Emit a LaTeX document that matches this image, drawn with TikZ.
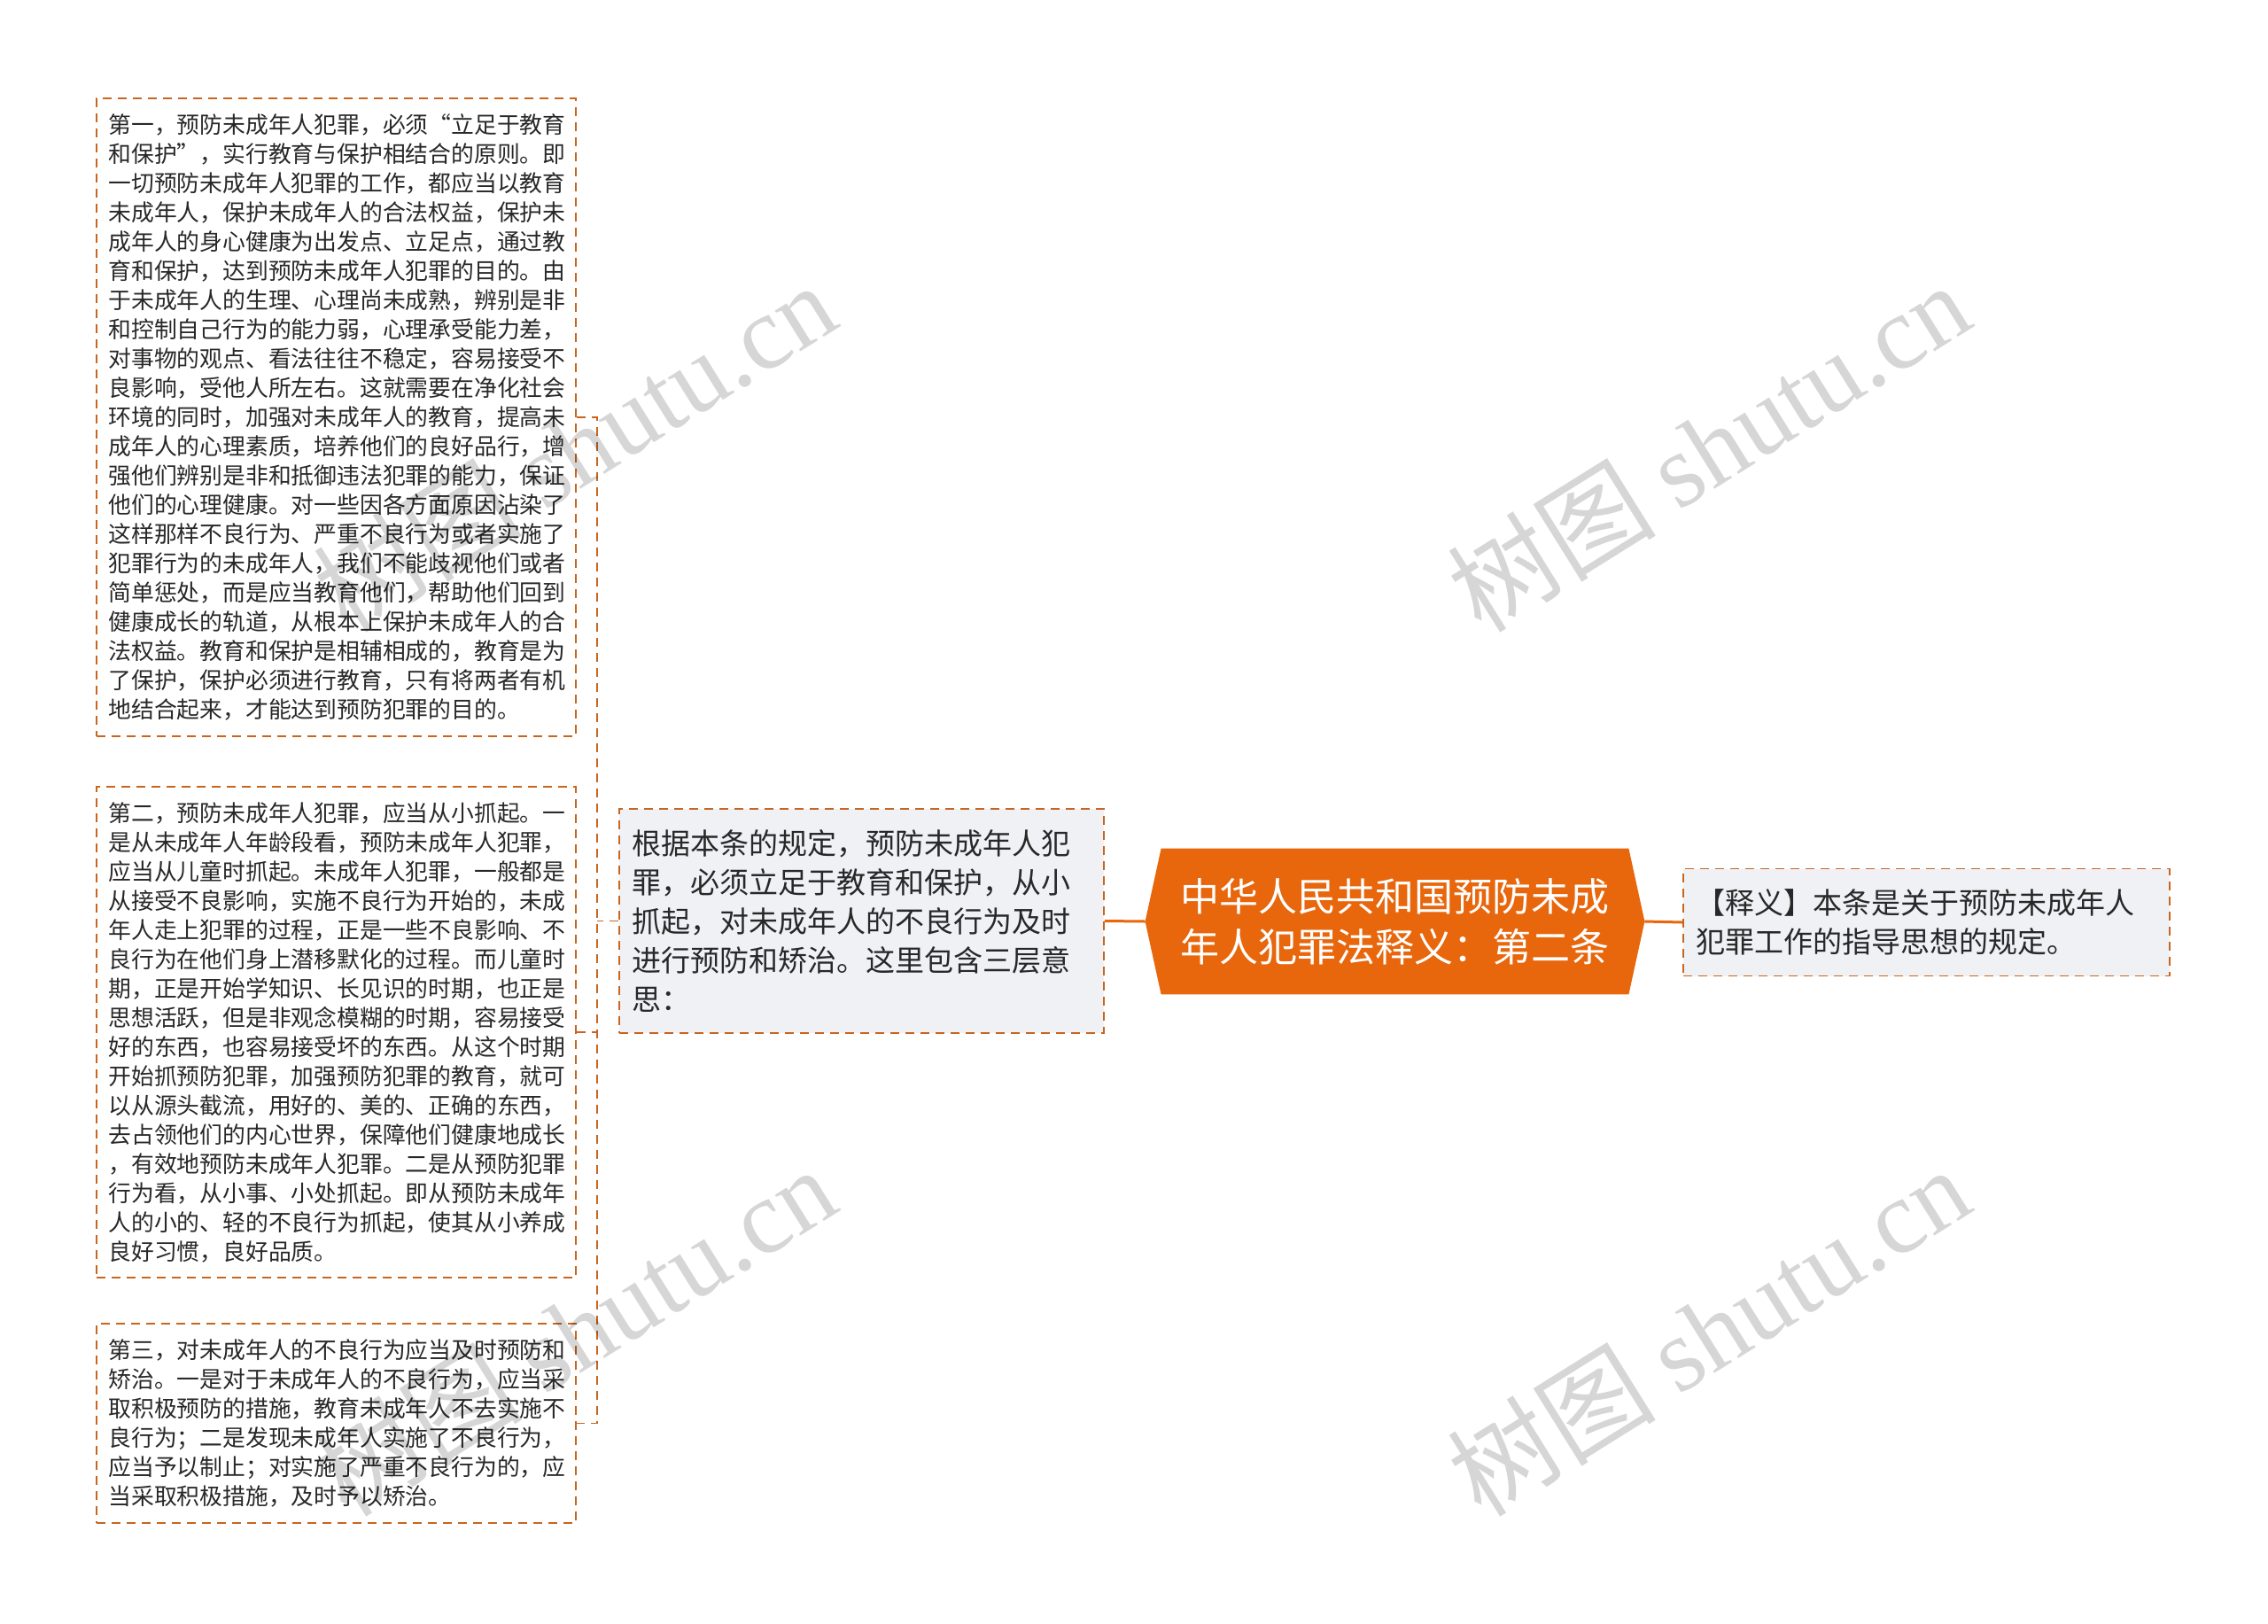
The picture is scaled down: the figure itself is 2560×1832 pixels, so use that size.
\documentclass[tikz,border=0pt]{standalone}
\usepackage{fontspec}
\setmainfont{Noto Sans CJK SC}
\newfontfamily\wmlatin{Liberation Serif}
\usetikzlibrary{backgrounds,calc}
\definecolor{bordc}{RGB}{200,101,31}
\definecolor{rootc}{RGB}{232,102,12}
\definecolor{boxfill}{RGB}{239,241,245}
\definecolor{txtc}{RGB}{40,40,40}
\tikzset{
  dashln/.style={draw=bordc, line width=0.9pt, dash pattern=on 5pt off 3.5pt},
  smallbox/.style={dashln, fill=white, text=txtc, align=left, text width=257pt, inner xsep=6.75pt, inner ysep=0pt, font=\fontsize{12.9pt}{16.5pt}\selectfont},
  bigbox/.style={dashln, fill=boxfill, text=txtc, align=left, inner xsep=7pt, inner ysep=0pt, font=\fontsize{16.5pt}{22pt}\selectfont},
  rootbox/.style={text=white, align=center, minimum width=263.5pt, minimum height=82pt, inner sep=0pt, font=\fontsize{22pt}{28.5pt}\selectfont},
  solidln/.style={draw=rootc, line width=1.5pt},
  wmark/.style={text=black, opacity=0.16, rotate=32, font=\fontsize{59pt}{59pt}\selectfont},
}
\begin{document}
\begin{tikzpicture}[x=0.5pt,y=-0.5pt]
\begin{scope}[on background layer]
\fill[white] (0,0) rectangle (2560,1832);
\end{scope}
\useasboundingbox (0,0) rectangle (2560,1832);

\node[smallbox, minimum height=360pt] (b1) at (379.5,471) {第一，预防未成年人犯罪，必须“立足于教育\\和保护”，实行教育与保护相结合的原则。即\\一切预防未成年人犯罪的工作，都应当以教育\\未成年人，保护未成年人的合法权益，保护未\\成年人的身心健康为出发点、立足点，通过教\\育和保护，达到预防未成年人犯罪的目的。由\\于未成年人的生理、心理尚未成熟，辨别是非\\和控制自己行为的能力弱，心理承受能力差，\\对事物的观点、看法往往不稳定，容易接受不\\良影响，受他人所左右。这就需要在净化社会\\环境的同时，加强对未成年人的教育，提高未\\成年人的心理素质，培养他们的良好品行，增\\强他们辨别是非和抵御违法犯罪的能力，保证\\他们的心理健康。对一些因各方面原因沾染了\\这样那样不良行为、严重不良行为或者实施了\\犯罪行为的未成年人，我们不能歧视他们或者\\简单惩处，而是应当教育他们，帮助他们回到\\健康成长的轨道，从根本上保护未成年人的合\\法权益。教育和保护是相辅相成的，教育是为\\了保护，保护必须进行教育，只有将两者有机\\地结合起来，才能达到预防犯罪的目的。};

\node[smallbox, minimum height=277pt] (b2) at (379.5,1165) {第二，预防未成年人犯罪，应当从小抓起。一\\是从未成年人年龄段看，预防未成年人犯罪，\\应当从儿童时抓起。未成年人犯罪，一般都是\\从接受不良影响，实施不良行为开始的，未成\\年人走上犯罪的过程，正是一些不良影响、不\\良行为在他们身上潜移默化的过程。而儿童时\\期，正是开始学知识、长见识的时期，也正是\\思想活跃，但是非观念模糊的时期，容易接受\\好的东西，也容易接受坏的东西。从这个时期\\开始抓预防犯罪，加强预防犯罪的教育，就可\\以从源头截流，用好的、美的、正确的东西，\\去占领他们的内心世界，保障他们健康地成长\\，有效地预防未成年人犯罪。二是从预防犯罪\\行为看，从小事、小处抓起。即从预防未成年\\人的小的、轻的不良行为抓起，使其从小养成\\良好习惯，良好品质。};

\node[smallbox, minimum height=112.5pt] (b3) at (379.5,1606.5) {第三，对未成年人的不良行为应当及时预防和\\矫治。一是对于未成年人的不良行为，应当采\\取积极预防的措施，教育未成年人不去实施不\\良行为；二是发现未成年人实施了不良行为，\\应当予以制止；对实施了严重不良行为的，应\\当采取积极措施，及时予以矫治。};

\node[bigbox, text width=259.5pt, minimum height=126.5pt] (mid) at (972.5,1039.5) {根据本条的规定，预防未成年人犯\\罪，必须立足于教育和保护，从小\\抓起，对未成年人的不良行为及时\\进行预防和矫治。这里包含三层意\\思：};

\node[rootbox] (root) at (1574.5,1040) {中华人民共和国预防未成\\年人犯罪法释义：第二条};
\coordinate (rootL) at ($(root.west)+(-18,0)$);
\coordinate (rootR) at ($(root.east)+(18,0)$);
\begin{scope}[on background layer]
\fill[rootc] (root.north west) -- (root.north east) -- (rootR) -- (root.south east) -- (root.south west) -- (rootL) -- cycle;
\end{scope}

\node[bigbox, text width=260.5pt, minimum height=60.5pt] (rb) at (2174.5,1041) {【释义】本条是关于预防未成年人\\犯罪工作的指导思想的规定。};

\draw[solidln] (mid.east) -- (rootL);
\draw[solidln] (rootR) -- (rb.west);

\coordinate (brk) at (674,1040);
\draw[dashln] (mid.west) -- (mid.west -| brk);
\draw[dashln] (b1.east) -- (b1.east -| brk) -- (b3.east -| brk) -- (b3.east);
\draw[dashln] (b2.east) -- (b2.east -| brk);

\node[wmark] (w1) at (648,504) {树图 {\wmlatin shutu.cn}};
\node[wmark] (w2) at (1928,504) {树图 {\wmlatin shutu.cn}};
\node[wmark] (w3) at (648,1502) {树图 {\wmlatin shutu.cn}};
\node[wmark] (w4) at (1928,1502) {树图 {\wmlatin shutu.cn}};
\end{tikzpicture}
\end{document}
